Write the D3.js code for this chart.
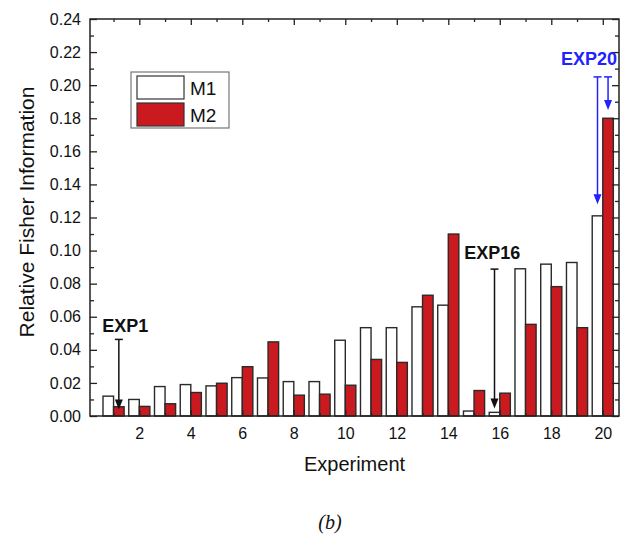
<!DOCTYPE html>
<meta charset="utf-8">
<script src="https://d3js.org/d3.v7.min.js"></script>
<style>
body { margin: 0; background: white; }
svg { font-family: Arial, 'Liberation Sans', sans-serif; }
</style>
<body>
<div id="chart"></div>
<script>
// values
var experiments = [1, 2, 3, 4, 5, 6, 7, 8, 9, 10, 11, 12, 13, 14, 15, 16, 17, 18, 19, 20];
var m1 = [0.0120, 0.0100, 0.0178, 0.0190, 0.0182, 0.0232, 0.0230, 0.0208, 0.0208, 0.0458,
          0.0534, 0.0534, 0.0660, 0.0670, 0.0030, 0.0022, 0.0890, 0.0918, 0.0928, 0.1210];
var m2 = [0.0056, 0.0058, 0.0074, 0.0142, 0.0198, 0.0298, 0.0448, 0.0126, 0.0132, 0.0186,
          0.0342, 0.0324, 0.0730, 0.1100, 0.0154, 0.0138, 0.0554, 0.0782, 0.0534, 0.1800];
var seriesNames = ["M1", "M2"];
var xTickLabels = [2, 4, 6, 8, 10, 12, 14, 16, 18, 20];
var yTickLabels = [0, 0.02, 0.04, 0.06, 0.08, 0.10, 0.12, 0.14, 0.16, 0.18, 0.20, 0.22, 0.24];

// annotations: experiment, series index, arrow from / to value, label position
var annotations = [
  {label: "EXP1",  exp: 1,  series: 1, from: 0.0463, to: 0.0040, lx: 1.45,  ly: 0.0509, color: "#111"},
  {label: "EXP16", exp: 16, series: 0, from: 0.0888, to: 0.0046, lx: 15.71, ly: 0.0949, color: "#111"},
  {label: "EXP20", exp: 20, series: 0, from: 0.2050, to: 0.1280, lx: 19.47, ly: 0.2121, color: "#2222ff"},
  {label: "",      exp: 20, series: 1, from: 0.2050, to: 0.1850, lx: 0,     ly: 0,      color: "#2222ff"}
];

var W = 627, H = 534;
var pLeft = 90, pRight = 619, pTop = 19, pBottom = 416;
var red = "#cb1a1f";

var svg = d3.select("#chart").append("svg")
    .attr("width", W)
    .attr("height", H);

var x = d3.scaleLinear().domain([0.085, 20.63]).range([pLeft, pRight]);
var y = d3.scaleLinear().domain([0, 0.24]).range([pBottom, pTop]);
var bw = x(0.41) - x(0);

// bars
var bars = svg.append("g");
bars.selectAll(".b1")
    .data(experiments)
    .enter().append("rect")
    .attr("x", function(d) { return x(d) - bw; })
    .attr("y", function(d, i) { return y(m1[i]); })
    .attr("width", bw)
    .attr("height", function(d, i) { return y(0) - y(m1[i]); })
    .style("fill", "white")
    .style("stroke", "#2a2a2a")
    .style("stroke-width", 1.4);
bars.selectAll(".b2")
    .data(experiments)
    .enter().append("rect")
    .attr("x", function(d) { return x(d); })
    .attr("y", function(d, i) { return y(m2[i]); })
    .attr("width", bw)
    .attr("height", function(d, i) { return y(0) - y(m2[i]); })
    .style("fill", red)
    .style("stroke", "#2a2a2a")
    .style("stroke-width", 1.4);

// axes - ticks point inward like Origin
var oddX = experiments.filter(function(d) { return d % 2 == 1; });
var minorY = d3.range(0.01, 0.24, 0.02);

function styleAxis(g) {
  g.select(".domain").remove();
  g.selectAll("line").style("stroke", "#222").style("stroke-width", 1.3);
  g.selectAll("text").style("font-size", "16px").style("fill", "#111");
}

svg.append("g").attr("transform", "translate(0," + pBottom + ")")
    .call(d3.axisBottom(x).tickValues(xTickLabels).tickSize(-6).tickPadding(12)).call(styleAxis);
svg.append("g").attr("transform", "translate(0," + pBottom + ")")
    .call(d3.axisBottom(x).tickValues(oddX).tickSize(-3).tickFormat("")).call(styleAxis);
svg.append("g").attr("transform", "translate(0," + pTop + ")")
    .call(d3.axisTop(x).tickValues(xTickLabels).tickSize(-6).tickFormat("")).call(styleAxis);
svg.append("g").attr("transform", "translate(0," + pTop + ")")
    .call(d3.axisTop(x).tickValues(oddX).tickSize(-3).tickFormat("")).call(styleAxis);

svg.append("g").attr("transform", "translate(" + pLeft + ",0)")
    .call(d3.axisLeft(y).tickValues(yTickLabels).tickSize(-7).tickPadding(9).tickFormat(d3.format(".2f"))).call(styleAxis);
svg.append("g").attr("transform", "translate(" + pLeft + ",0)")
    .call(d3.axisLeft(y).tickValues(minorY).tickSize(-4).tickFormat("")).call(styleAxis);
svg.append("g").attr("transform", "translate(" + pRight + ",0)")
    .call(d3.axisRight(y).tickValues(yTickLabels).tickSize(-7).tickFormat("")).call(styleAxis);
svg.append("g").attr("transform", "translate(" + pRight + ",0)")
    .call(d3.axisRight(y).tickValues(minorY).tickSize(-4).tickFormat("")).call(styleAxis);

// frame
svg.append("rect")
    .attr("x", pLeft).attr("y", pTop)
    .attr("width", pRight - pLeft).attr("height", pBottom - pTop)
    .style("fill", "none").style("stroke", "#222").style("stroke-width", 1.5);

// axis titles
svg.append("text")
    .attr("x", (pLeft + pRight) / 2).attr("y", 471)
    .attr("text-anchor", "middle")
    .style("font-size", "20px").style("fill", "#111")
    .text("Experiment");
svg.append("text")
    .attr("transform", "translate(34,212) rotate(-90)")
    .attr("text-anchor", "middle")
    .style("font-size", "21px").style("fill", "#111")
    .text("Relative Fisher Information");
svg.append("text")
    .attr("x", 330).attr("y", 529)
    .attr("text-anchor", "middle")
    .style("font-family", "'Liberation Serif', 'DejaVu Serif', serif")
    .style("font-style", "italic")
    .style("font-size", "20px").style("fill", "#111")
    .text("(b)");

// legend
var legend = svg.append("g");
legend.append("rect")
    .attr("x", 131).attr("y", 72).attr("width", 98).attr("height", 56)
    .style("fill", "white").style("stroke", "#777").style("stroke-width", 1.2);
legend.selectAll(".sw")
    .data(seriesNames)
    .enter().append("rect")
    .attr("x", 137).attr("y", function(d, i) { return 76 + i * 27; })
    .attr("width", 47).attr("height", 23)
    .style("fill", function(d, i) { return i == 0 ? "white" : red; })
    .style("stroke", "#333").style("stroke-width", 1.2);
legend.selectAll(".lt")
    .data(seriesNames)
    .enter().append("text")
    .attr("x", 190).attr("y", function(d, i) { return 95 + i * 27; })
    .style("font-size", "19px").style("fill", "#111")
    .text(function(d) { return d; });

// annotation arrows
var ann = svg.append("g");
annotations.forEach(function(a) {
  var ax = a.series == 0 ? x(a.exp) - bw / 2 : x(a.exp) + bw / 2;
  var y0 = y(a.from), y1 = y(a.to);
  ann.append("line")
      .attr("x1", ax).attr("x2", ax).attr("y1", y0).attr("y2", y1 - 8)
      .style("stroke", a.color).style("stroke-width", 1.5);
  ann.append("line")
      .attr("x1", ax - 4).attr("x2", ax + 4).attr("y1", y0).attr("y2", y0)
      .style("stroke", a.color).style("stroke-width", 1.5);
  ann.append("path")
      .attr("d", "M" + (ax - 4) + "," + (y1 - 10) + "L" + (ax + 4) + "," + (y1 - 10) + "L" + ax + "," + y1 + "Z")
      .style("fill", a.color);
  if (a.label) {
    ann.append("text")
        .attr("x", x(a.lx)).attr("y", y(a.ly))
        .attr("text-anchor", "middle")
        .style("font-size", "18px").style("font-weight", "bold")
        .style("fill", a.color)
        .text(a.label);
  }
});
</script>
</body>
